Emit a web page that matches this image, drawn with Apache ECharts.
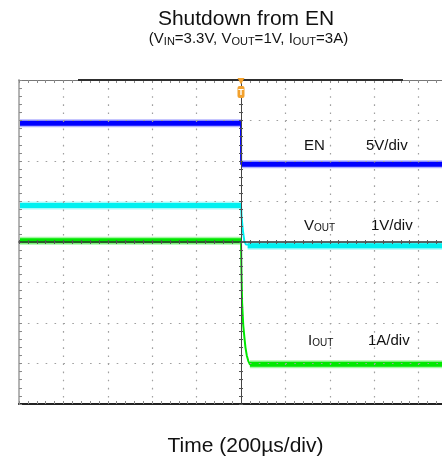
<!DOCTYPE html>
<html>
<head>
<meta charset="utf-8">
<script src="https://cdn.jsdelivr.net/npm/echarts@6/dist/echarts.min.js"></script>
<style>
  html, body { margin: 0; padding: 0; background: #fff; }
  #chart { width: 442px; height: 462px; }
</style>
</head>
<body>
<div id="chart"></div>
<script>
// Time base: 200 µs per division, trigger at t = 0, 10 divisions
const timeRangeUs = [-1000, 1000];
const timeDivUs = 200;

// EN channel (5 V/div)
const enTimeUs = [-1000, 0, 0.5, 1000];
const enVolts  = [4.65, 4.65, -0.4, -0.4];

// VOUT channel (1 V/div)
const voutTimeUs = [-1000, 0, 3, 8, 15, 22, 30, 1000];
const voutVolts  = [0.90, 0.90, 0.60, 0.30, 0.02, -0.06, -0.09, -0.09];

// IOUT channel (1 A/div)
const ioutTimeUs = [-1000, 0, 2, 5, 10, 15, 20, 26, 33, 40, 1000];
const ioutAmps   = [3.03, 3.03, 2.30, 1.50, 0.95, 0.66, 0.40, 0.20, 0.06, -0.02, -0.02];

// Vertical scale of each channel over the 8 screen divisions
const divRange  = [-4, 4];
const enRange   = [-30, 10];
const voutRange = [-4, 4];
const ioutRange = [-1, 7];

// Channel annotations
const channelLabels = [
  { name: 'EN', scale: '5V/div' },
  { name: 'V{s|OUT}', scale: '1V/div' },
  { name: 'I{s|OUT}', scale: '1A/div' }
];

const FONT = '"Liberation Sans", Arial, Helvetica, sans-serif';

function pairs(t, v) { return t.map((x, i) => [x, v[i]]); }

// Flat parts of a trace (before the trigger and after it settles), drawn heavy
function steadyParts(t, v) {
  const n = t.length;
  return [
    [t[0], v[0]], [t[1], v[1]],
    [(t[1] + t[n - 2]) / 2, '-'],
    [t[n - 2], v[n - 2]], [t[n - 1], v[n - 1]]
  ];
}

function trace(name, t, v, yIdx, color, halo) {
  const common = { type: 'line', yAxisIndex: yIdx, showSymbol: false, silent: true,
                   animation: false, connectNulls: false };
  return [
    Object.assign({}, common, { name, data: pairs(t, v), z: 2,
      itemStyle: { color }, lineStyle: { color, width: 2 } }),
    Object.assign({}, common, { data: steadyParts(t, v), z: 2,
      itemStyle: { color: halo }, lineStyle: { color: halo, width: 8 } }),
    Object.assign({}, common, { data: steadyParts(t, v), z: 3,
      itemStyle: { color }, lineStyle: { color, width: 5 } })
  ];
}

const tickGray = '#8a8a8a';
const dotGray = '#a0a0a0';

function frameX(extra) {
  return Object.assign({
    type: 'value', min: timeRangeUs[0], max: timeRangeUs[1], interval: timeDivUs,
    axisLabel: { show: false }, splitLine: { show: false }, z: 5,
    minorTick: { show: true, splitNumber: 5, length: 3, lineStyle: { color: tickGray } }
  }, extra);
}
function frameY(extra) {
  return Object.assign({
    type: 'value', min: divRange[0], max: divRange[1], interval: 1,
    axisLabel: { show: false }, splitLine: { show: false }, z: 5,
    minorTick: { show: true, splitNumber: 5, length: 3, lineStyle: { color: tickGray } }
  }, extra);
}

const chart = echarts.init(document.getElementById('chart'), null, { renderer: 'canvas' });

chart.setOption({
  animation: false,
  backgroundColor: '#fff',
  grid: { left: 19, top: 80, width: 444, height: 324, containLabel: false, outerBoundsMode: 'none' },
  xAxis: [
    frameX({ position: 'bottom',
      axisLine: { onZero: false, lineStyle: { color: '#222', width: 2 } },
      axisTick: { inside: true, length: 3, lineStyle: { color: tickGray } },
      splitLine: { show: true, lineStyle: { color: dotGray, width: 1.2, type: [1.6, 6.5] } } }),
    frameX({ position: 'top',
      axisLine: { onZero: false, lineStyle: { color: '#777', width: 1 } },
      axisTick: { inside: true, length: 3, lineStyle: { color: tickGray } } }),
    frameX({ position: 'bottom', z: 6,
      axisLine: { onZero: true, onZeroAxisIndex: 0, lineStyle: { color: '#333', width: 1.5 } },
      axisTick: { inside: true, length: 2, lineStyle: { color: '#555' } },
      minorTick: { show: true, splitNumber: 5, length: 2, lineStyle: { color: '#555' } } }),
    frameX({ position: 'bottom', z: 6,
      axisLine: { onZero: true, onZeroAxisIndex: 0, lineStyle: { color: 'rgba(0,0,0,0)', width: 1 } },
      axisTick: { inside: false, length: 2, lineStyle: { color: '#555' } },
      minorTick: { show: true, splitNumber: 5, length: 2, lineStyle: { color: '#555' } } })
  ],
  yAxis: [
    frameY({ position: 'left',
      axisLine: { onZero: false, lineStyle: { color: '#b4b4b4', width: 2 } },
      axisTick: { inside: true, length: 3, lineStyle: { color: tickGray } },
      splitLine: { show: true, lineStyle: { color: dotGray, width: 1.2, type: [1.6, 7.28] } } }),
    frameY({ position: 'left', z: 6,
      axisLine: { onZero: true, onZeroAxisIndex: 0, lineStyle: { color: '#444', width: 1 } },
      axisTick: { inside: true, length: 2, lineStyle: { color: '#555' } },
      minorTick: { show: true, splitNumber: 5, length: 2, lineStyle: { color: '#555' } } }),
    frameY({ position: 'left', z: 6,
      axisLine: { onZero: true, onZeroAxisIndex: 0, lineStyle: { color: 'rgba(0,0,0,0)', width: 1 } },
      axisTick: { inside: false, length: 2, lineStyle: { color: '#555' } },
      minorTick: { show: true, splitNumber: 5, length: 2, lineStyle: { color: '#555' } } }),
    { type: 'value', min: enRange[0], max: enRange[1], show: false },
    { type: 'value', min: voutRange[0], max: voutRange[1], show: false },
    { type: 'value', min: ioutRange[0], max: ioutRange[1], show: false }
  ],
  series: [].concat(
    trace('EN', enTimeUs, enVolts, 3, '#0000ff', 'rgba(40,40,255,0.35)'),
    trace('VOUT', voutTimeUs, voutVolts, 4, '#00f0f0', 'rgba(0,240,240,0.35)'),
    trace('IOUT', ioutTimeUs, ioutAmps, 5, '#00e800', 'rgba(0,232,0,0.35)')
  )
});

// Screen decorations: titles, channel annotations, record bar and trigger marker
const trigX = chart.convertToPixel({ xAxisIndex: 0 }, 0);
const topY = chart.convertToPixel({ yAxisIndex: 0 }, divRange[1]);
const orange = '#f2a12e';
const subRich = { s: { fontSize: 11, fontFamily: FONT, fill: '#111', padding: [6, 0, 0, 0] } };

function label(text, x, y, size) {
  return { type: 'text', x, y, silent: true, z: 20,
    style: { text, fontSize: size, fontFamily: FONT, fill: '#111', align: 'left', verticalAlign: 'middle',
             rich: { s: { fontSize: 10, fontFamily: FONT, fill: '#111', padding: [5, 0, 0, 0] } } } };
}

chart.setOption({
  graphic: [
    { type: 'text', x: 246, y: 19, silent: true,
      style: { text: 'Shutdown from EN', fontSize: 21, fontFamily: FONT, fill: '#111',
               align: 'center', verticalAlign: 'middle' } },
    { type: 'text', x: 248.5, y: 39, silent: true,
      style: { text: '(V{s|IN}=3.3V, V{s|OUT}=1V, I{s|OUT}=3A)', fontSize: 15, fontFamily: FONT, fill: '#111',
               align: 'center', verticalAlign: 'middle', rich: subRich } },
    { type: 'text', x: 245.5, y: 446, silent: true,
      style: { text: 'Time (200µs/div)', fontSize: 21, fontFamily: FONT, fill: '#111',
               align: 'center', verticalAlign: 'middle' } },
    label(channelLabels[0].name, 304, 146, 15),
    label(channelLabels[0].scale, 366, 146, 15),
    label(channelLabels[1].name, 304, 226, 15),
    label(channelLabels[1].scale, 371, 226, 15),
    label(channelLabels[2].name, 308, 341, 15),
    label(channelLabels[2].scale, 368, 341, 15),
    { type: 'rect', silent: true, z: 10,
      shape: { x: 78, y: topY - 1, width: 325, height: 2 }, style: { fill: '#2e2e2e' } },
    { type: 'polygon', silent: true, z: 12,
      shape: { points: [[trigX - 3.5, topY - 2], [trigX + 3.5, topY - 2], [trigX, topY + 4.5]] },
      style: { fill: orange } },
    { type: 'rect', silent: true, z: 12,
      shape: { x: trigX - 3.5, y: topY + 6, width: 7, height: 12, r: 2 }, style: { fill: orange } },
    { type: 'text', x: trigX, y: topY + 12.5, silent: true, z: 13,
      style: { text: 'T', fontSize: 9, fontWeight: 'bold', fontFamily: FONT, fill: '#fff',
               align: 'center', verticalAlign: 'middle' } }
  ]
});
</script>
</body>
</html>
